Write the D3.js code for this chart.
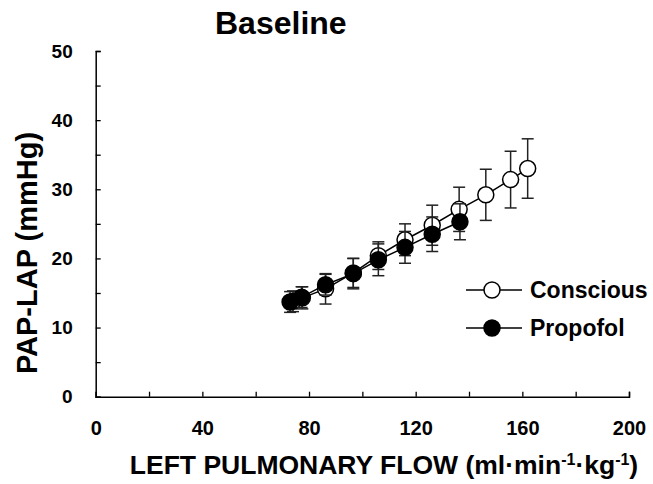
<!DOCTYPE html>
<html>
<head>
<meta charset="utf-8">
<script src="https://cdn.jsdelivr.net/npm/d3@7"></script>
<style>
  body { margin: 0; background: #fff; }
  text { font-family: "Liberation Sans", Arial, sans-serif; font-weight: bold; fill: #000; }
</style>
</head>
<body>
<script>
// conscious (open circles)
var consciousFlow = [74, 77.5, 86.2, 96.6, 106, 116, 126.2, 136.3, 146.3, 155.6, 162];
var consciousPap  = [13.8, 14.3, 15.6, 17.9, 20.4, 22.7, 24.8, 27.1, 29.2, 31.4, 33.0];
var consciousSd   = [1.5, 1.6, 2.2, 2.1, 2.0, 2.3, 2.9, 3.2, 3.7, 4.1, 4.3];
// propofol (filled circles)
var propofolFlow = [72.9, 77.2, 86.2, 96.6, 106, 116, 126.2, 136.6];
var propofolPap  = [13.7, 14.4, 16.2, 17.8, 19.8, 21.6, 23.5, 25.3];
var propofolSd   = [1.5, 1.5, 1.5, 2.2, 2.3, 2.3, 2.5, 2.6];

var xTicks = [0, 20, 40, 60, 80, 100, 120, 140, 160, 180, 200];
var xLabels = [0, 40, 80, 120, 160, 200];
var yTicks = [0, 5, 10, 15, 20, 25, 30, 35, 40, 45, 50];
var yLabels = [0, 10, 20, 30, 40, 50];

var width = 653, height = 484;
var svg = d3.select("body").append("svg")
    .attr("width", width)
    .attr("height", height);

var x = d3.scaleLinear().domain([0, 200]).range([95.7, 629]);
var y = d3.scaleLinear().domain([0, 50]).range([396.7, 51]);

// axes, ticks pointing inward
var xAxis = d3.axisBottom(x)
    .tickValues(xTicks)
    .tickSize(-5)
    .tickPadding(24)
    .tickFormat(function (d) { return xLabels.indexOf(d) >= 0 ? d : ""; });
var yAxis = d3.axisLeft(y)
    .tickValues(yTicks)
    .tickSize(-5)
    .tickPadding(23)
    .tickFormat(function (d) { return yLabels.indexOf(d) >= 0 ? d : ""; });

var gx = svg.append("g").attr("transform", "translate(0," + y(0) + ")").call(xAxis);
var gy = svg.append("g").attr("transform", "translate(" + x(0) + ",0)").call(yAxis);
[gx, gy].forEach(function (g) {
    g.select(".domain").attr("stroke", "#000").attr("stroke-width", 1.5);
    g.selectAll(".tick line").attr("stroke", "#000").attr("stroke-width", 1.3);
    g.selectAll("text").style("font-weight", "bold")
        .style("font-family", "'Liberation Sans', Arial, sans-serif").attr("fill", "#000");
});
gx.selectAll("text").style("font-size", "20px");
gy.selectAll("text").style("font-size", "19px");

// title and axis titles
svg.append("text").attr("x", 215).attr("y", 34)
    .style("font-size", "32px").text("Baseline");

svg.append("text")
    .attr("transform", "translate(37,253) rotate(-90)")
    .attr("text-anchor", "middle")
    .style("font-size", "29px")
    .text("PAP-LAP (mmHg)");

var xl = svg.append("text").attr("x", 384).attr("y", 474)
    .attr("text-anchor", "middle")
    .style("font-size", "26.5px");
xl.append("tspan").text("LEFT PULMONARY FLOW (ml\u00b7min");
xl.append("tspan").attr("dy", -9).style("font-size", "16px").text("-1");
xl.append("tspan").attr("dy", 9).text("\u00b7kg");
xl.append("tspan").attr("dy", -9).style("font-size", "16px").text("-1");
xl.append("tspan").attr("dy", 9).text(")");

function series(flow, pap, sd, fill) {
    var pts = flow.map(function (f, i) { return { x: f, y: pap[i], sd: sd[i] }; });
    var g = svg.append("g");
    var eb = g.selectAll(".eb").data(pts).enter().append("g")
        .attr("stroke", "#222").attr("stroke-width", 1.5);
    eb.append("line")
        .attr("x1", function (d) { return x(d.x); }).attr("x2", function (d) { return x(d.x); })
        .attr("y1", function (d) { return y(d.y - d.sd); }).attr("y2", function (d) { return y(d.y + d.sd); });
    eb.append("line")
        .attr("x1", function (d) { return x(d.x) - 6; }).attr("x2", function (d) { return x(d.x) + 6; })
        .attr("y1", function (d) { return y(d.y + d.sd); }).attr("y2", function (d) { return y(d.y + d.sd); });
    eb.append("line")
        .attr("x1", function (d) { return x(d.x) - 6; }).attr("x2", function (d) { return x(d.x) + 6; })
        .attr("y1", function (d) { return y(d.y - d.sd); }).attr("y2", function (d) { return y(d.y - d.sd); });
    g.append("path").datum(pts)
        .attr("fill", "none").attr("stroke", "#000").attr("stroke-width", 1.5)
        .attr("d", d3.line().x(function (d) { return x(d.x); }).y(function (d) { return y(d.y); }));
    g.selectAll("circle").data(pts).enter().append("circle")
        .attr("cx", function (d) { return x(d.x); })
        .attr("cy", function (d) { return y(d.y); })
        .attr("r", 8)
        .attr("fill", fill).attr("stroke", "#000").attr("stroke-width", 1.5);
}
series(consciousFlow, consciousPap, consciousSd, "#fff");
series(propofolFlow, propofolPap, propofolSd, "#000");

// legend
var legend = [
    { name: "Conscious", fill: "#fff", y: 290 },
    { name: "Propofol", fill: "#000", y: 328 }
];
var lg = svg.append("g").selectAll("g").data(legend).enter().append("g");
lg.append("line").attr("x1", 466).attr("x2", 522)
    .attr("y1", function (d) { return d.y; }).attr("y2", function (d) { return d.y; })
    .attr("stroke", "#000").attr("stroke-width", 1.5);
lg.append("circle").attr("cx", 492).attr("cy", function (d) { return d.y; }).attr("r", 8)
    .attr("fill", function (d) { return d.fill; }).attr("stroke", "#000").attr("stroke-width", 1.5);
lg.append("text").attr("x", 530).attr("y", function (d) { return d.y + 8; })
    .style("font-size", "23px").text(function (d) { return d.name; });
</script>
</body>
</html>
